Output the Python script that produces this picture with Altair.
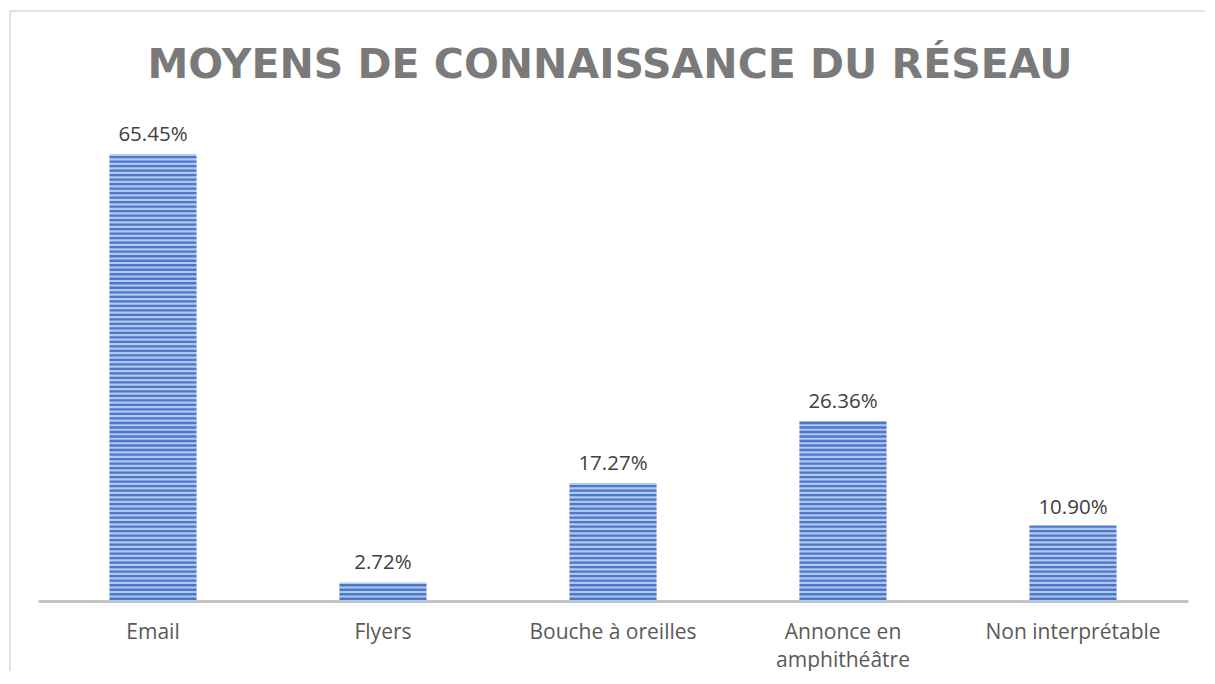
import altair as alt
import pandas as pd

title_text = "MOYENS DE CONNAISSANCE DU RÉSEAU"
categories = ["Email", "Flyers", "Bouche à oreilles", "Annonce en|amphithéâtre", "Non interprétable"]
values = [65.45, 2.72, 17.27, 26.36, 10.90]

df = pd.DataFrame({"cat": categories, "value": values})

W, H = 1150, 478
FONT = "Open Sans"
pi = 1 - 87 / 230

x = alt.X("cat:N", sort=categories, title=None,
          scale=alt.Scale(paddingInner=pi, paddingOuter=pi / 2),
          axis=alt.Axis(labelAngle=0, ticks=False, domainColor="#c4c4c4", domainWidth=3,
                        labelFont=FONT, labelFontSize=21, labelColor="#595959",
                        labelPadding=20, labelLineHeight=28,
                        labelExpr="split(datum.label, '|')"))
y = alt.Y("value:Q", scale=alt.Scale(domain=[0, 70]), axis=None)

base = alt.Chart(df)
first = base.transform_filter("datum.cat == 'Email'")

frame = first.mark_rect(fill="transparent", stroke="#d9d9d9", strokeWidth=1.5).encode(
    x=alt.value(-28), x2=alt.value(W + 60), y=alt.value(-112), y2=alt.value(H + 120)
)

title = first.transform_calculate(t=f"'{title_text}'").mark_text(
    font="DejaVu Sans", fontSize=41, fontWeight="bold", color="#7a7a7a",
    align="center", baseline="alphabetic"
).encode(x=alt.value(W / 2 - 3), y=alt.value(-45), text="t:N")

bars = base.mark_bar(color="#b3c8ec").encode(x=x, y=y)

stripes = base.transform_calculate(
    s="sequence(0.33, datum.value, 0.66)"
).transform_flatten(["s"]).mark_tick(
    orient="horizontal", size=87, thickness=2.3, color="#4674c8", opacity=0.95
).encode(x=x, y=alt.Y("s:Q", scale=alt.Scale(domain=[0, 70]), axis=None))

labels = base.transform_calculate(
    label="format(datum.value, '.2f') + '%'"
).mark_text(font=FONT, fontSize=20.5, color="#404040", baseline="alphabetic", dy=-13).encode(
    x=x, y=y, text="label:N"
)

chart = alt.layer(frame, title, bars, stripes, labels).properties(
    width=W, height=H,
    background="white",
    autosize=alt.AutoSizeParams(type="none"),
    padding={"left": 30, "top": 115, "right": 17, "bottom": 70},
).configure_view(strokeWidth=0)

chart.save("out.html", embed_options={"renderer": "svg", "actions": False})
